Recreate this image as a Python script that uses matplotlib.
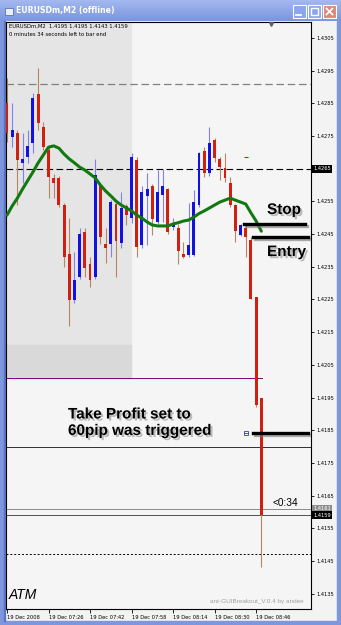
"""
Capture MetaTrader : EURUSDm M2, cassure avec Stop / Entry / Take Profit.
Sortie : out.png (341x625)
"""

import matplotlib
matplotlib.use("Agg")
import matplotlib.pyplot as plt
import matplotlib.patheffects as pe
import matplotlib.transforms as mtransforms
from matplotlib.patches import Rectangle
import numpy as np

W, H = 341, 625

opens = [1.42851, 1.42747, 1.42759, 1.42667, 1.42686, 1.42729, 1.42879, 1.42778, 1.42707, 1.42622,
         1.42622, 1.42539, 1.42389, 1.42248, 1.42319, 1.42456, 1.42358, 1.42319, 1.42597, 1.42420,
         1.42420, 1.42542, 1.42423, 1.42536, 1.42499, 1.42677, 1.42417, 1.42567, 1.42597, 1.42487,
         1.42570, 1.42588, 1.42472, 1.42469, 1.42389, 1.42386, 1.42386, 1.42539, 1.42704, 1.42637,
         1.42738, 1.42680, 1.42652, 1.42606, 1.42539, 1.42447, 1.42469, 1.42432, 1.42257, 1.41950]
highs = [1.42928, 1.42851, 1.42768, 1.42759, 1.42768, 1.42882, 1.42958, 1.42793, 1.42716, 1.42634,
         1.42628, 1.42545, 1.42499, 1.42395, 1.42469, 1.42469, 1.42380, 1.42680, 1.42603, 1.42469,
         1.42554, 1.42554, 1.42579, 1.42542, 1.42698, 1.42686, 1.42597, 1.42637, 1.42603, 1.42646,
         1.42649, 1.42591, 1.42499, 1.42481, 1.42426, 1.42545, 1.42585, 1.42701, 1.42716, 1.42778,
         1.42744, 1.42686, 1.42698, 1.42625, 1.42542, 1.42481, 1.42481, 1.42441, 1.42257, 1.41950]
lows = [1.42732, 1.42716, 1.42539, 1.42606, 1.42667, 1.42698, 1.42768, 1.42707, 1.42560, 1.42560,
        1.42533, 1.42349, 1.42169, 1.42239, 1.42313, 1.42319, 1.42288, 1.42313, 1.42420, 1.42361,
        1.42380, 1.42319, 1.42407, 1.42478, 1.42484, 1.42380, 1.42407, 1.42417, 1.42447, 1.42481,
        1.42487, 1.42450, 1.42463, 1.42358, 1.42377, 1.42380, 1.42383, 1.42533, 1.42625, 1.42628,
        1.42671, 1.42615, 1.42609, 1.42533, 1.42426, 1.42444, 1.42380, 1.42251, 1.41921, 1.41430]
closes = [1.42759, 1.42768, 1.42677, 1.42680, 1.42720, 1.42866, 1.42790, 1.42716, 1.42625, 1.42606,
          1.42539, 1.42380, 1.42248, 1.42309, 1.42450, 1.42346, 1.42309, 1.42631, 1.42441, 1.42407,
          1.42548, 1.42429, 1.42530, 1.42508, 1.42686, 1.42410, 1.42579, 1.42588, 1.42496, 1.42579,
          1.42597, 1.42456, 1.42484, 1.42398, 1.42380, 1.42417, 1.42548, 1.42698, 1.42637, 1.42729,
          1.42683, 1.42655, 1.42622, 1.42539, 1.42459, 1.42478, 1.42441, 1.42251, 1.41927, 1.41590]
ma_vals = [1.42508, 1.42536, 1.42560, 1.42588, 1.42614, 1.42640, 1.42668, 1.42692, 1.42716, 1.42720,
           1.42713, 1.42695, 1.42680, 1.42668, 1.42655, 1.42646, 1.42634, 1.42622, 1.42600, 1.42582,
           1.42567, 1.42551, 1.42539, 1.42530, 1.42521, 1.42508, 1.42499, 1.42487, 1.42478, 1.42475,
           1.42475, 1.42475, 1.42481, 1.42485, 1.42490, 1.42493, 1.42502, 1.42513, 1.42521, 1.42530,
           1.42539, 1.42548, 1.42554, 1.42560, 1.42554, 1.42548, 1.42542, 1.42515, 1.42490, 1.42459]

time_ticks = [0, 8, 16, 24, 32, 40, 48]
time_labels = ["19 Dec 2008", "19 Dec 07:26", "19 Dec 07:42", "19 Dec 07:58",
               "19 Dec 08:14", "19 Dec 08:30", "19 Dec 08:46"]
price_ticks = [1.4135, 1.4145, 1.4155, 1.4165, 1.4175, 1.4185, 1.4195, 1.4205, 1.4215,
               1.4225, 1.4235, 1.4245, 1.4255, 1.4265, 1.4275, 1.4285, 1.4295, 1.4305]

level_grey = 1.4291     # tiret gris
level_bid_old = 1.4265  # tiret noir (étiquette noire)
level_purple = 1.4201
level_solid = 1.4180
level_ask = 1.4161
level_bid = 1.4159
level_dotted = 1.4147
box_top_lvl = 1.4211    # bas de la zone grise claire

stop_price = 1.4248
entry_price = 1.4244
tp_price = 1.4184
marker_red = 1.42686

# ── Figure ────────────────────────────────────────────────────────────
fig = plt.figure(figsize=(W / 100, H / 100), dpi=100, facecolor="#f3f3f3")
px = mtransforms.Affine2D().scale(1 / W, -1 / H).translate(0, 1) + fig.transFigure

bg = fig.add_axes([0, 0, 1, 1], zorder=-5)
bg.set_xlim(0, W)
bg.set_ylim(H, 0)
bg.axis("off")

# barre de titre (style XP inactif)
grad = np.linspace(0, 1, 21).reshape(-1, 1)
bg.imshow(grad, extent=(0, W, 21, 0), aspect="auto",
          cmap=matplotlib.colors.LinearSegmentedColormap.from_list("t", ["#a3b8ee", "#7a96e0"]))
for rect in [(0, 21, 4, H - 21), (337, 21, 4, H - 21), (0, 621, W, 4)]:
    bg.add_patch(Rectangle(rect[:2], rect[2], rect[3], color="#7d96dc"))
bg.add_patch(Rectangle((4, 21), 1, 600, color="#5a74c8"))
bg.add_patch(Rectangle((5, 8), 8, 7, facecolor="#e8eefc", edgecolor="#5060a0", lw=0.5))
bg.text(16, 11, "EURUSDm,M2 (offline)", color="white", fontsize=5.6,
        fontweight="bold", va="center", ha="left")
for x0, fc in [(293, "#8ba6ee"), (308, "#8ba6ee"), (323, "#dc8a78")]:
    bg.add_patch(Rectangle((x0, 5), 13, 13, facecolor=fc, edgecolor="white", lw=0.8))
bg.plot([296, 301], [15, 15], color="white", lw=1.3)
bg.add_patch(Rectangle((311, 8), 7, 7, facecolor="none", edgecolor="white", lw=1))
bg.plot([326.5, 332.5], [8.5, 14.5], color="white", lw=1.2)
bg.plot([326.5, 332.5], [14.5, 8.5], color="white", lw=1.2)

# ── Zone graphique ────────────────────────────────────────────────────
ax = fig.add_axes([6 / W, (H - 609) / H, 305 / W, 587 / H], facecolor="#f5f5f5")
ax.set_xlim(-0.19, 58.57)
ax.set_ylim(1.41303, 1.43099)
for s in ax.spines.values():
    s.set_linewidth(0.8)
    s.set_color("black")

# zone de session grise
ax.add_patch(Rectangle((-0.5, box_top_lvl), 24.4, 1, color="#e5e5e5", zorder=0))
ax.add_patch(Rectangle((-0.5, level_purple), 24.4, box_top_lvl - level_purple,
                       color="#d9d9d9", zorder=0))

# lignes horizontales
ax.axhline(level_grey, color="#808080", lw=0.9, ls=(0, (6, 3)), zorder=1)
ax.axhline(level_bid_old, color="black", lw=0.8, ls=(0, (6, 3)), zorder=1)
ax.plot([-0.5, 49.1], [level_purple, level_purple], color="#800080", lw=0.7, zorder=1)
ax.axhline(level_solid, color="#303030", lw=0.7, zorder=1)
ax.axhline(level_ask, color="#8a8a8a", lw=0.7, zorder=1)
ax.axhline(level_bid, color="#505050", lw=0.7, zorder=1)
ax.axhline(level_dotted, color="black", lw=0.7, ls=(0, (2, 2)), zorder=1)

# chandeliers
x = np.arange(len(opens))
o, h, l, c = map(np.array, (opens, highs, lows, closes))
up = c >= o
wick_col = np.where(up, "#8080f0", "#b98463")
ax.vlines(x, l, h, colors=wick_col, lw=0.8, zorder=2)
body_low = np.minimum(o, c)
body_h = np.maximum(np.abs(c - o), 0.00003)
ax.bar(x, body_h, bottom=body_low, width=0.56,
       color=np.where(up, "#1212e0", "#d0200f"), zorder=3)

# moyenne mobile
ax.plot(x, ma_vals, color="#11790f", lw=2.2, solid_capstyle="round", zorder=4)

# niveaux de l'ordre
shadow_line = [pe.SimpleLineShadow(offset=(1.2, -1.2), shadow_color="#777777", alpha=0.6),
               pe.Normal()]
ax.plot([45.7, 57.4], [stop_price, stop_price], color="black", lw=2.4,
        zorder=5, path_effects=shadow_line)
ax.plot([47.4, 58.0], [entry_price, entry_price], color="black", lw=2.4,
        zorder=5, path_effects=shadow_line)
ax.plot([47.4, 58.0], [tp_price, tp_price], color="black", lw=2.4,
        zorder=5, path_effects=shadow_line)
ax.plot([46.05], [tp_price], marker="s", ms=3.4, mfc="white", mec="#3535c0",
        mew=0.6, zorder=6)
ax.plot([46.05], [tp_price], marker="_", ms=2.2, color="#3535c0", mew=0.6, zorder=7)
ax.plot([46.05], [marker_red], marker="_", ms=3.5, color="#d0200f", mew=0.8, zorder=6)
ax.plot([50.9], [1.43094], marker="v", ms=2.8, color="#606060", clip_on=False, zorder=6)

# textes
shadow_txt = [pe.SimplePatchShadow(offset=(1.5, -1.5), shadow_rgbFace="#888888", alpha=0.55),
              pe.Normal()]
big = dict(family="Liberation Sans", fontweight="bold", fontsize=11, color="black",
           zorder=8, path_effects=shadow_txt)
ax.text(50.1, 1.42524, "Stop", ha="left", va="center", **big)
ax.text(50.1, 1.42395, "Entry", ha="left", va="center", **big)
ax.text(11.75, 1.41873, "Take Profit set to\n60pip was triggered", ha="left",
        va="center", linespacing=1.22, **big)
ax.text(51.1, 1.41627, "<0:34", family="Liberation Sans", fontsize=7.3,
        ha="left", va="center", zorder=8)

# axes (l'étiquette 1.4265 est remplacée par la boîte noire)
boxed = [level_bid_old]
ax.yaxis.tick_right()
ax.set_yticks(price_ticks)
ax.set_yticklabels(["" if p in boxed else f"{p:.4f}" for p in price_ticks])
ax.tick_params(axis="y", length=2.5, width=0.6, labelsize=3.7, pad=1.5, colors="black")
ax.set_xticks(time_ticks)
ax.set_xticklabels(time_labels, ha="left")
ax.tick_params(axis="x", length=3, width=0.6, labelsize=3.7, pad=1.2, direction="out")

# étiquettes de prix encadrées
for lvl, fc in [(level_bid_old, "black"), (level_ask, "#8c8c8c"), (level_bid, "black")]:
    ax.text(1.008, lvl, f"{lvl:.4f}", transform=ax.get_yaxis_transform(), fontsize=3.7,
            color="white", ha="left", va="center", zorder=9, clip_on=False,
            bbox=dict(boxstyle="square,pad=0.25", fc=fc, ec="none"))

# en-tête et signatures (coordonnées pixels)
fig.text(9, 26, "EURUSDm,M2  1.4195 1.4195 1.4143 1.4159", transform=px,
         fontsize=3.8, va="center", ha="left")
fig.text(9, 34, "0 minutes 34 seconds left to bar end", transform=px,
         fontsize=3.8, va="center", ha="left")
fig.text(9, 595, "ATM", transform=px, family="Liberation Sans", style="italic",
         fontsize=10, va="center", ha="left")
fig.text(304, 602, "ant-GUIBreakout_V.0.4 by andee", transform=px,
         family="Liberation Sans", fontsize=4.6, color="#a0a0a0", va="center", ha="right")

fig.savefig("out.png", dpi=100, facecolor=fig.get_facecolor())
plt.close()
